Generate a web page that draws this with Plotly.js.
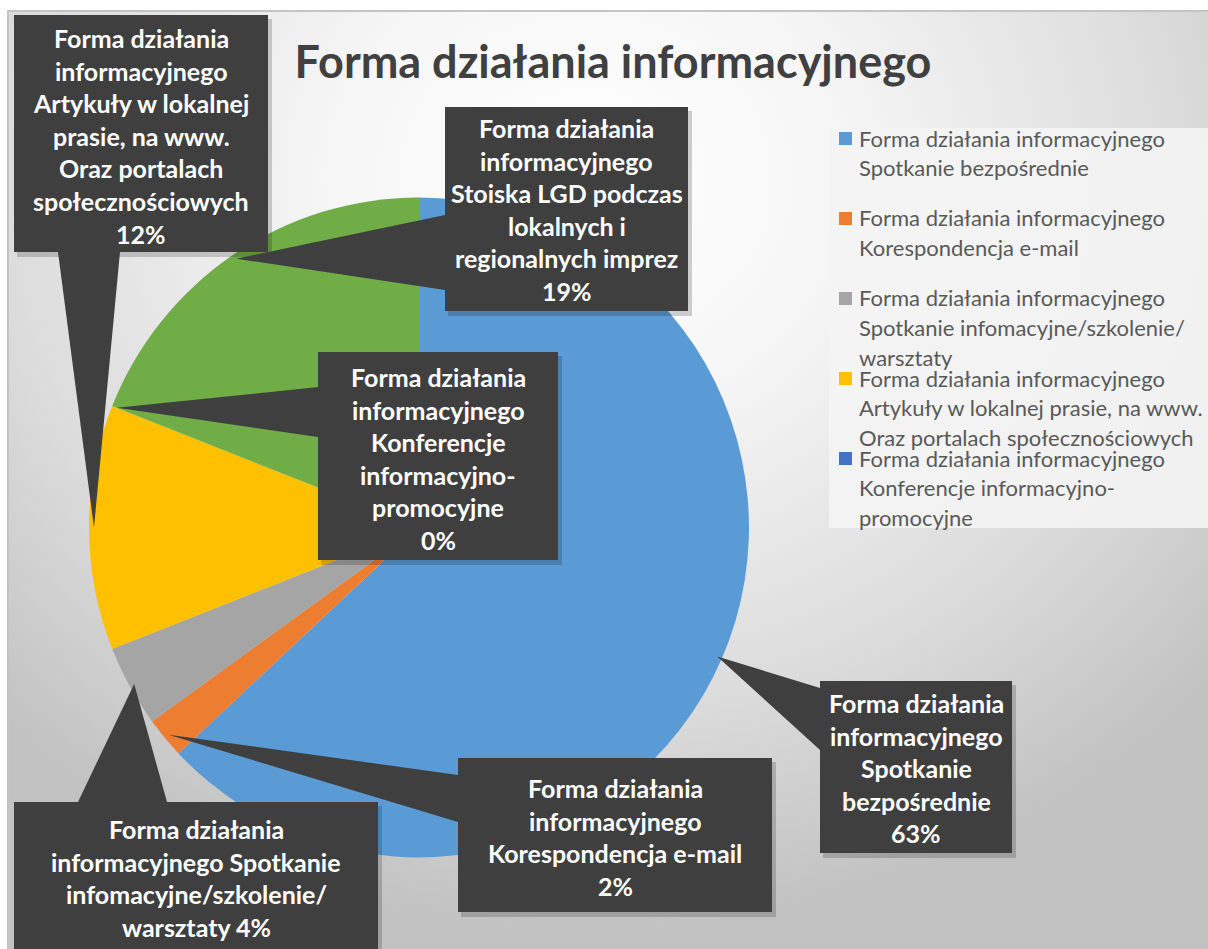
<!DOCTYPE html>
<html>
<head>
<meta charset="utf-8">
<script src="https://cdn.plot.ly/plotly-3.0.1.min.js"></script>
<style>
  html,body{margin:0;padding:0;background:#ffffff;}
  #bg{position:absolute;left:7px;top:10px;width:1201px;height:939px;box-sizing:border-box;
      border-top:2px solid #c4c4c4;border-left:2px solid #c4c4c4;
      background:radial-gradient(ellipse 70% 80% at 48% 18%, #ffffff 0%, #f6f6f6 30%, #dcdcdc 70%, #c2c2c2 100%);}
  #chart{position:absolute;left:0;top:0;width:1208px;height:949px;}
</style>
</head>
<body>
<div id="bg"></div>
<div id="chart"></div>
<script>
// ---- data ----
const categories = [
  "Forma działania informacyjnego Spotkanie bezpośrednie",
  "Forma działania informacyjnego Korespondencja e-mail",
  "Forma działania informacyjnego Spotkanie infomacyjne/szkolenie/warsztaty",
  "Forma działania informacyjnego Artykuły w lokalnej prasie, na www. Oraz portalach społecznościowych",
  "Forma działania informacyjnego Konferencje informacyjno-promocyjne",
  "Forma działania informacyjnego Stoiska LGD podczas lokalnych i regionalnych imprez"
];
const values = [63, 2, 4, 12, 0, 19];
const colors = ["#5B9BD5", "#ED7D31", "#A5A5A5", "#FFC000", "#4472C4", "#70AD47"];
const titleText = "Forma działania informacyjnego";

// wrapped label text ({p} = percentage)
const boxLines = [
  ["Forma działania", "informacyjnego", "Spotkanie", "bezpośrednie", "{p}"],
  ["Forma działania", "informacyjnego", "Korespondencja e-mail", "{p}"],
  ["Forma działania", "informacyjnego Spotkanie", "infomacyjne/szkolenie/", "warsztaty {p}"],
  ["Forma działania", "informacyjnego", "Artykuły w lokalnej", "prasie, na www.", "Oraz portalach", "społecznościowych", "{p}"],
  ["Forma działania", "informacyjnego", "Konferencje", "informacyjno-", "promocyjne", "{p}"],
  ["Forma działania", "informacyjnego", "Stoiska LGD podczas", "lokalnych i", "regionalnych imprez", "{p}"]
];
const legendLines = [
  ["Forma działania informacyjnego", "Spotkanie bezpośrednie"],
  ["Forma działania informacyjnego", "Korespondencja e-mail"],
  ["Forma działania informacyjnego", "Spotkanie infomacyjne/szkolenie/", "warsztaty"],
  ["Forma działania informacyjnego", "Artykuły w lokalnej prasie, na www.", "Oraz portalach społecznościowych"],
  ["Forma działania informacyjnego", "Konferencje informacyjno-", "promocyjne"]
];

// ---- layout helpers (pixels) ----
const W = 1208, H = 949;
const px = x => x / W, py = y => 1 - y / H;
const dom = {x: [0.0737, 0.6200], y: [0.0964, 0.7919]};
const CX = (dom.x[0] + dom.x[1]) / 2 * W;
const CY = (1 - (dom.y[0] + dom.y[1]) / 2) * H;
const R = Math.min((dom.x[1] - dom.x[0]) * W, (dom.y[1] - dom.y[0]) * H) / 2;

const total = values.reduce((a, b) => a + b, 0);
function midPoint(i, k) {
  let before = 0;
  for (let j = 0; j < i; j++) before += values[j];
  const th = (before + values[i] / 2) / total * 2 * Math.PI;
  return [CX + R * k * Math.sin(th), CY - R * k * Math.cos(th)];
}

// callout boxes: [x0, y0, x1, y1], first-line centre y, base points of pointer
const boxes = [
  {r: [820, 681, 1012, 853], y0: 703, base: [[820, 688], [820, 750]]},
  {r: [458, 758, 772, 912], y0: 788, base: [[458, 775], [458, 822]]},
  {r: [14, 802, 378, 952], y0: 829, base: [[78, 802], [167, 802]]},
  {r: [14, 15, 268, 252], y0: 38, base: [[58, 252], [120, 252]]},
  {r: [318, 352, 558, 560], y0: 377, base: [[318, 387], [318, 437]]},
  {r: [445, 107, 688, 311], y0: 128, base: [[445, 215], [445, 290]]}
];
const lineGap = 32.6;
const boxColor = "#3f3f3f";
const FONT = "Lato, 'Open Sans', sans-serif";

const shapes = [];
const annotations = [];

boxes.forEach((b, i) => {
  const [x0, y0, x1, y1] = b.r;
  const tip = midPoint(i, 0.985);
  shapes.push({type: "rect", xref: "paper", yref: "paper", layer: "above",
    x0: px(x0 + 3), x1: px(x1 + 4), y0: py(y0 + 4), y1: py(y1 + 5),
    fillcolor: "rgba(0,0,0,0.18)", line: {width: 0}});
  const p = [b.base[0], tip, b.base[1]];
  const path = "M " + p.map(q => px(q[0]) + "," + py(q[1])).join(" L ") + " Z";
  shapes.push({type: "path", xref: "paper", yref: "paper", layer: "above", path: path,
    fillcolor: boxColor, line: {width: 0}});
  shapes.push({type: "rect", xref: "paper", yref: "paper", layer: "above",
    x0: px(x0), x1: px(x1), y0: py(y0), y1: py(y1),
    fillcolor: boxColor, line: {width: 0}});
  const pct = Math.round(values[i] / total * 100) + "%";
  const cx = (x0 + x1) / 2;
  boxLines[i].forEach((t, k) => {
    annotations.push({xref: "paper", yref: "paper", x: px(cx), y: py(b.y0 + k * lineGap),
      xanchor: "center", yanchor: "middle", showarrow: false,
      text: t.replace("{p}", pct),
      font: {family: FONT, size: 25, color: "#ffffff", weight: "bold"}});
  });
});

// legend (first five entries visible, as in the reference)
shapes.push({type: "rect", xref: "paper", yref: "paper", layer: "below",
  x0: px(829), x1: px(1208), y0: py(128), y1: py(528),
  fillcolor: "rgba(244,244,244,0.9)", line: {width: 0}});
legendLines.forEach((lines, i) => {
  const top = 138 + i * 80;
  shapes.push({type: "rect", xref: "paper", yref: "paper", layer: "above",
    x0: px(839), x1: px(852), y0: py(top - 6), y1: py(top + 7),
    fillcolor: colors[i], line: {width: 0}});
  lines.forEach((t, k) => {
    annotations.push({xref: "paper", yref: "paper", x: px(857), y: py(top + k * 29.7),
      xanchor: "left", yanchor: "middle", showarrow: false, text: t,
      font: {family: FONT, size: 22, color: "#595959"}});
  });
});

const trace = {
  type: "pie",
  labels: categories,
  values: values,
  sort: false,
  direction: "clockwise",
  rotation: 0,
  domain: dom,
  marker: {colors: colors, line: {width: 0}},
  textinfo: "none",
  hoverinfo: "label+percent",
  showlegend: false
};

const layout = {
  width: W, height: H,
  margin: {l: 0, r: 0, t: 0, b: 0},
  paper_bgcolor: "rgba(0,0,0,0)",
  plot_bgcolor: "rgba(0,0,0,0)",
  showlegend: false,
  title: {text: titleText, x: px(613), xanchor: "center", y: py(62), yanchor: "middle",
    font: {family: FONT, size: 45, color: "#404040", weight: "bold"}},
  shapes: shapes,
  annotations: annotations
};

Plotly.newPlot("chart", [trace], layout, {displayModeBar: false, staticPlot: true});
</script>
</body>
</html>
